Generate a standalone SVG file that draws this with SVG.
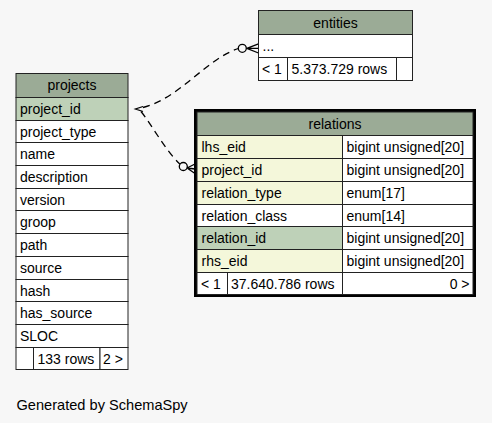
<svg xmlns="http://www.w3.org/2000/svg" width="492" height="423" viewBox="0 0 492 423">
<style>
text{font-family:"Liberation Sans",Arial,sans-serif;font-size:14px;fill:#000}
.c{text-anchor:middle}
.r{text-anchor:end}
.h{fill:#9bab96;stroke:#222;stroke-width:1}
.pk{fill:#bed1b8;stroke:#222;stroke-width:1}
.fk{fill:#f4f7da;stroke:#222;stroke-width:1}
.b{fill:#fff;stroke:#222;stroke-width:1}
.e{fill:none;stroke:#000;stroke-width:1.3;stroke-dasharray:7,5}
.m{fill:none;stroke:#000;stroke-width:1.3}
</style>
<rect width="492" height="423" fill="#f7f7f7"/>
<g id="connectors">
<path class="e" d="M143,107.5 C180,98 205,60 238.3,48.5"/>
<path class="e" d="M141,111.5 C152,125 165,150 179.8,164"/>
<polyline class="m" points="143,106.5 135.5,109 143,111.5"/>
<circle class="m" cx="242.3" cy="48.3" r="4"/>
<path class="m" d="M246.3,48.3 H258.5 M246.8,48.3 L258.5,43.8 M246.8,48.3 L258.5,53"/>
<circle class="m" cx="183.3" cy="166.5" r="4"/>
<path class="m" d="M187,168 L195,169 M187,168 L195,164 M187,168 L195,173.5"/>
</g>
<g id="projects">
<rect class="h" x="16" y="73.5" width="112" height="24"/>
<text class="c" x="72" y="90">projects</text>
<rect class="pk" x="16" y="97.5" width="112" height="23"/>
<rect class="b" x="16" y="120.5" width="112" height="22"/>
<rect class="b" x="16" y="142.5" width="112" height="23"/>
<rect class="b" x="16" y="165.5" width="112" height="23"/>
<rect class="b" x="16" y="188.5" width="112" height="22"/>
<rect class="b" x="16" y="210.5" width="112" height="23"/>
<rect class="b" x="16" y="233.5" width="112" height="23"/>
<rect class="b" x="16" y="256.5" width="112" height="23"/>
<rect class="b" x="16" y="279.5" width="112" height="22"/>
<rect class="b" x="16" y="301.5" width="112" height="23"/>
<rect class="b" x="16" y="324.5" width="112" height="23"/>
<rect class="b" x="16" y="347.5" width="17.5" height="22"/>
<rect class="b" x="33.5" y="347.5" width="66.5" height="22"/>
<rect class="b" x="100" y="347.5" width="28" height="22"/>
<text x="20" y="114">project_id</text>
<text x="20" y="137">project_type</text>
<text x="20" y="159">name</text>
<text x="20" y="182">description</text>
<text x="20" y="205">version</text>
<text x="20" y="227">groop</text>
<text x="20" y="250">path</text>
<text x="20" y="273">source</text>
<text x="20" y="296">hash</text>
<text x="20" y="318">has_source</text>
<text x="20" y="341">SLOC</text>
<text x="37.5" y="364">133 rows</text>
<text x="103" y="364">2 &gt;</text>
</g>
<g id="entities">
<rect class="h" x="258.5" y="10.5" width="154" height="24"/>
<text class="c" x="335.5" y="28">entities</text>
<rect class="b" x="258.5" y="34.5" width="154" height="23"/>
<text x="262.5" y="51">...</text>
<rect class="b" x="258.5" y="57.5" width="29" height="23"/>
<rect class="b" x="287.5" y="57.5" width="109" height="23"/>
<rect class="b" x="396.5" y="57.5" width="16" height="23"/>
<text x="262" y="74">&lt; 1</text>
<text x="291.5" y="74">5.373.729 rows</text>
</g>
<g id="relations">
<rect x="195.5" y="110.5" width="279" height="185" fill="none" stroke="#000" stroke-width="3"/>
<rect class="h" x="197" y="112" width="276" height="23.5"/>
<text class="c" x="335" y="129">relations</text>
<rect class="fk" x="197" y="135.5" width="145.5" height="23"/>
<rect class="b" x="342.5" y="135.5" width="130.5" height="23"/>
<rect class="fk" x="197" y="158.5" width="145.5" height="23"/>
<rect class="b" x="342.5" y="158.5" width="130.5" height="23"/>
<rect class="fk" x="197" y="181.5" width="145.5" height="23"/>
<rect class="b" x="342.5" y="181.5" width="130.5" height="23"/>
<rect class="b" x="197" y="204.5" width="145.5" height="22"/>
<rect class="b" x="342.5" y="204.5" width="130.5" height="22"/>
<rect class="pk" x="197" y="226.5" width="145.5" height="23"/>
<rect class="b" x="342.5" y="226.5" width="130.5" height="23"/>
<rect class="fk" x="197" y="249.5" width="145.5" height="23"/>
<rect class="b" x="342.5" y="249.5" width="130.5" height="23"/>
<rect class="b" x="197" y="272.5" width="30.5" height="22"/>
<rect class="b" x="227.5" y="272.5" width="115" height="22"/>
<rect class="b" x="342.5" y="272.5" width="130.5" height="22"/>
<text x="201.5" y="152">lhs_eid</text>
<text x="346.5" y="152">bigint unsigned[20]</text>
<text x="201.5" y="175">project_id</text>
<text x="346.5" y="175">bigint unsigned[20]</text>
<text x="201.5" y="198">relation_type</text>
<text x="346.5" y="198">enum[17]</text>
<text x="201.5" y="221">relation_class</text>
<text x="346.5" y="221">enum[14]</text>
<text x="201.5" y="243">relation_id</text>
<text x="346.5" y="243">bigint unsigned[20]</text>
<text x="201.5" y="266">rhs_eid</text>
<text x="346.5" y="266">bigint unsigned[20]</text>
<text x="201" y="289">&lt; 1</text>
<text x="231" y="289">37.640.786 rows</text>
<text class="r" x="469.5" y="289">0 &gt;</text>
</g>
<text x="16.5" y="410" style="font-size:14.6px">Generated by SchemaSpy</text>
</svg>
